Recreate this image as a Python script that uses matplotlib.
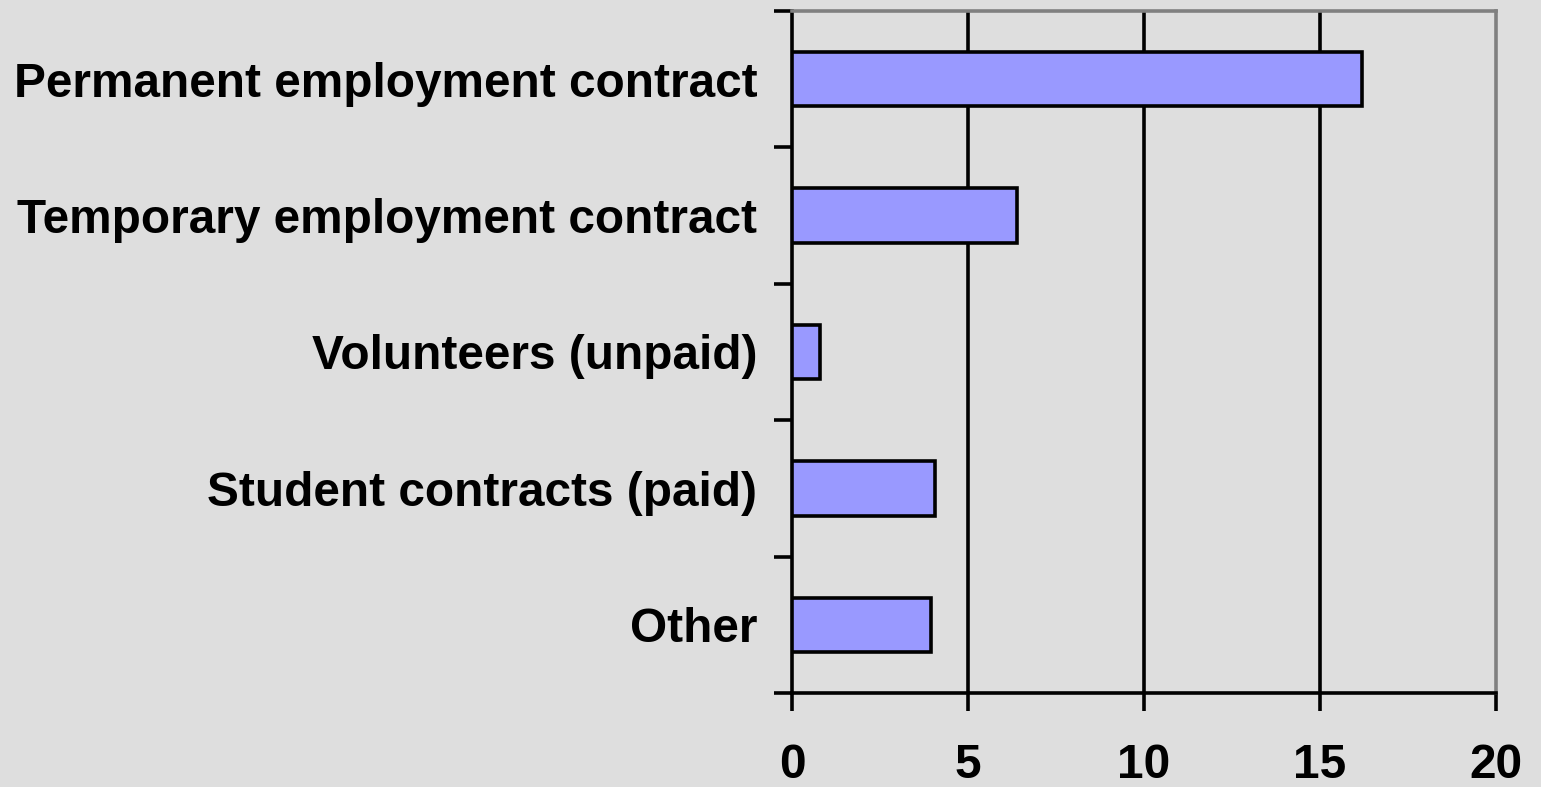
import numpy as np
import matplotlib.pyplot as plt

categories = ["Permanent employment contract", "Temporary employment contract",
              "Volunteers (unpaid)", "Student contracts (paid)", "Other"]
values = [16.2, 6.4, 0.8, 4.05, 3.95]
xticks = [0, 5, 10, 15, 20]

plt.rcParams['font.family'] = ['Liberation Sans', 'DejaVu Sans']
plt.rcParams['font.weight'] = 'bold'

bg = "#dedede"
lw = 2.6
fig = plt.figure(figsize=(15.41, 7.87), dpi=100, facecolor=bg)
ax = fig.add_axes([792 / 1541, 1 - 693 / 787, 704 / 1541, 682 / 787])
ax.set_facecolor(bg)

y = np.arange(len(categories))

# vertical grid lines drawn first so bars sit on top
for t in xticks[1:-1]:
    ax.axvline(t, color="black", lw=lw, zorder=1)

ax.barh(y, values, height=0.4, color="#9999ff", edgecolor="black", linewidth=lw, zorder=3)

ax.set_xlim(0, 20)
ax.set_ylim(len(categories) - 0.5, -0.5)

ax.set_xticks(xticks)
ax.set_xticklabels([str(t) for t in xticks], fontsize=34.4, fontweight="bold")
ax.tick_params(axis="x", direction="out", length=13, width=lw, pad=23)

# category boundary ticks on y, labels at centers
ax.set_yticks(np.arange(len(categories) + 1) - 0.5)
ax.set_yticklabels([])
ax.set_yticks(y, minor=True)
ax.set_yticklabels(categories, minor=True, fontsize=34.4, fontweight="bold")
ax.tick_params(axis="y", which="major", direction="out", length=13, width=lw)
ax.tick_params(axis="y", which="minor", length=0, pad=25)

for side in ["left", "bottom"]:
    ax.spines[side].set_color("black")
    ax.spines[side].set_linewidth(lw)
for side in ["top", "right"]:
    ax.spines[side].set_color("#808080")
    ax.spines[side].set_linewidth(lw)

fig.savefig("out.png", dpi=100, facecolor=bg)
